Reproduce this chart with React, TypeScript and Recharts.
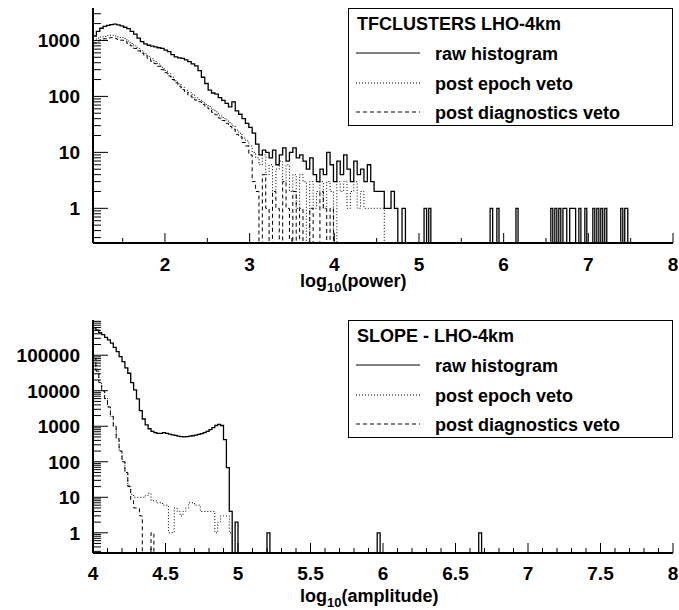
import React from 'react';
import { LineChart, Line, XAxis, YAxis } from 'recharts';

const FONT = '"Liberation Sans", Arial, Helvetica, sans-serif';
// empty bins are drawn at this value, below the axis minimum, and clipped away
const FLOOR = 0.01;

const seriesNames = ['raw histogram', 'post epoch veto', 'post diagnostics veto'];
const seriesDash = ['', '1 2', '4 3'];
const seriesWidth = [1.3, 1, 1];

// ---- TFCLUSTERS LHO-4km : counts per log10(power) bin, 0.04 wide from 1.15 ----
const tfBinStart = 1.15;
const tfBinWidth = 0.04;
const tfRaw = [
  1200, 1450, 1650, 1780, 1860, 1920, 1950, 1900, 1820, 1720,
  1620, 1450, 1300, 1100, 950, 870, 820, 790, 770, 740,
  720, 670, 630, 560, 510, 490, 480, 450, 420, 380,
  350, 290, 220, 170, 130, 115, 110, 95, 85, 75,
  65, 80, 55, 48, 40, 33, 28, 22, 14, 9,
  11, 10, 8, 11, 6, 9, 12, 7, 10, 12,
  8, 9, 7, 5, 8, 4, 3, 5, 4, 10,
  6, 3, 7, 4, 9, 5, 3, 7, 4, 5,
  3, 6, 3, 2, 2, 2, 1, 1, 2, 1,
];
const tfEpoch = [
  1050, 1100, 1150, 1180, 1220, 1240, 1200, 1160, 1120, 1080,
  980, 880, 800, 720, 650, 580, 520, 470, 420, 380,
  330, 290, 255, 220, 190, 168, 145, 128, 118, 108,
  95, 88, 80, 72, 66, 58, 53, 46, 42, 38,
  34, 30, 25, 22, 18, 16, 13, 10, 8, 6,
  9, 4, 6, 2, 5, 7, 3, 6, 2, 4,
  1, 4, 3, 0, 3, 1, 2, 3, 1, 3,
  2, 0, 3, 2, 3, 1, 2, 3, 1, 2,
  1, 1, 1, 1, 1, 1,
];
const tfDiag = [
  900, 980, 1030, 1070, 1100, 1120, 1090, 1050, 1010, 970,
  890, 800, 720, 650, 590, 530, 475, 425, 385, 345,
  300, 265, 232, 200, 175, 152, 132, 118, 106, 97,
  86, 80, 72, 64, 60, 52, 47, 41, 37, 33,
  29, 26, 21, 19, 15, 13, 9, 3, 2, 0,
  4, 1, 0, 2, 1, 0, 3, 1, 0, 2,
  0, 1, 0, 0, 1, 0, 0, 2, 1, 0,
  1, 0,
];
// isolated single-count bins of the raw histogram: [low edge, high edge, count]
const tfRawSingles = [
  [4.8, 4.84, 1], [5.06, 5.09, 1], [5.115, 5.14, 1], [5.84, 5.87, 1],
  [5.92, 5.945, 1], [6.145, 6.17, 1], [6.557, 6.58, 1], [6.604, 6.628, 1],
  [6.651, 6.675, 1], [6.7, 6.745, 1], [6.78, 6.85, 1], [6.888, 6.912, 1],
  [6.959, 6.982, 1], [7.053, 7.076, 1], [7.1, 7.124, 1], [7.147, 7.17, 1],
  [7.194, 7.218, 1], [7.383, 7.407, 1], [7.43, 7.466, 1],
];
const tfXMajor = [2, 3, 4, 5, 6, 7, 8];
const tfXMinor = [1.5, 2.5, 3.5, 4.5, 5.5, 6.5, 7.5];
const tfYDecades = [1, 10, 100, 1000];

// ---- SLOPE - LHO-4km : counts per log10(amplitude) bin, 0.02 wide from 4 ----
const slBinStart = 4;
const slBinWidth = 0.02;
const slRaw = [
  590000, 510000, 430000, 380000, 316000, 270000, 220000, 166000, 126000, 91000,
  66000, 44000, 31000, 17000, 10500, 5900, 2750, 1600, 1100, 850,
  720, 660, 630, 630, 660, 630, 600, 575, 550, 525,
  510, 500, 510, 530, 540, 560, 590, 620, 660, 720,
  800, 910, 1050, 1130, 1050, 420, 68, 4,
];
const slEpoch = [
  80000, 36000, 17000, 10000, 6000, 3500, 1900, 1000, 450, 200,
  100, 50, 22, 12, 10, 10, 10, 10, 11, 13,
  8, 8, 7, 7, 6, 6, 1, 1, 5, 4,
  3, 4, 5, 7, 7, 6, 6, 4, 4, 4,
  4, 4, 1, 2, 3, 3, 3, 1,
];
const slDiag = [
  80000, 36000, 17000, 10000, 6000, 3500, 1900, 1000, 450, 200,
  100, 50, 20, 8, 5, 5, 3, 0, 0, 0,
  1,
];
const slRawSingles = [[4.98, 5.0, 2], [5.2, 5.22, 1], [5.96, 5.98, 1], [6.66, 6.68, 1]];
const slXMajor = [4, 4.5, 5, 5.5, 6, 6.5, 7, 7.5, 8];
const slXMinor = [
  4.1, 4.2, 4.3, 4.4, 4.6, 4.7, 4.8, 4.9, 5.1, 5.2, 5.3, 5.4, 5.6, 5.7, 5.8, 5.9,
  6.1, 6.2, 6.3, 6.4, 6.6, 6.7, 6.8, 6.9, 7.1, 7.2, 7.3, 7.4, 7.6, 7.7, 7.8, 7.9,
];
const slYDecades = [1, 10, 100, 1000, 10000, 100000];

type Pt = { x: number; y: number };

function histogram(start: number, width: number, counts: number[], singles: number[][] = []): Pt[] {
  const pts: Pt[] = counts.map((c, i) => ({ x: start + i * width, y: c > 0 ? c : FLOOR }));
  pts.push({ x: start + counts.length * width, y: FLOOR });
  singles.forEach(([lo, hi, c]) => {
    pts.push({ x: lo, y: c });
    pts.push({ x: hi, y: FLOOR });
  });
  return pts;
}

function logTicks(lo: number, hi: number) {
  const out: number[] = [];
  for (let e = Math.floor(Math.log10(lo)); e <= Math.ceil(Math.log10(hi)); e++) {
    for (let m = 1; m < 10; m++) {
      const v = m * Math.pow(10, e);
      if (v >= lo && v <= hi * 1.0001) out.push(v);
    }
  }
  return out;
}

const near = (list: number[], v: number) => list.some((m) => Math.abs(m - v) <= Math.abs(m) * 1e-6 + 1e-9);

const labelStyle = { fontFamily: FONT, fontWeight: 'bold' as const, fontSize: 19, fill: '#000' };

function XTick(props: any) {
  const { x, y, payload, majors, dy } = props;
  const major = near(majors, payload.value);
  return (
    <g>
      <line x1={x} x2={x} y1={y} y2={y - (major ? 10 : 5)} stroke="#000" strokeWidth={1} />
      {major && (
        <text x={x} y={y + dy} textAnchor="middle" {...labelStyle}>
          {String(payload.value)}
        </text>
      )}
    </g>
  );
}

function YTick(props: any) {
  const { x, y, payload, majors } = props;
  const major = near(majors, payload.value);
  return (
    <g>
      <line x1={x} x2={x + (major ? 15 : 8)} y1={y} y2={y} stroke="#000" strokeWidth={1} />
      {major && (
        <text x={x - 13} y={y + 7} textAnchor="end" {...labelStyle}>
          {String(Math.round(payload.value))}
        </text>
      )}
    </g>
  );
}

type PanelProps = {
  top: number;
  height: number;
  marginTop: number;
  xDomain: [number, number];
  yDomain: [number, number];
  xTicks: number[];
  xMajor: number[];
  yDecades: number[];
  labelDy: number;
  lines: Pt[][];
};

function HistPanel({ top, height, marginTop, xDomain, yDomain, xTicks, xMajor, yDecades, labelDy, lines }: PanelProps) {
  return (
    <div style={{ position: 'absolute', left: 0, top }}>
      <LineChart width={679} height={height} margin={{ top: marginTop, right: 6, bottom: 0, left: 0 }}>
        <XAxis
          dataKey="x"
          type="number"
          domain={xDomain}
          allowDataOverflow
          ticks={xTicks}
          interval={0}
          height={57}
          tickSize={0}
          tickMargin={0}
          axisLine={{ stroke: '#000', strokeWidth: 2 }}
          tick={(p: any) => <XTick {...p} majors={xMajor} dy={labelDy} />}
        />
        <XAxis
          xAxisId="frame"
          orientation="top"
          type="number"
          domain={xDomain}
          height={0}
          tick={false}
          tickLine={false}
          axisLine={{ stroke: '#000', strokeWidth: 1.5 }}
        />
        <YAxis
          type="number"
          scale="log"
          domain={yDomain}
          allowDataOverflow
          ticks={logTicks(yDomain[0], yDomain[1])}
          interval={0}
          width={93}
          tickSize={0}
          tickMargin={0}
          axisLine={{ stroke: '#000', strokeWidth: 2 }}
          tick={(p: any) => <YTick {...p} majors={yDecades} />}
        />
        {lines.map((pts, i) => (
          <Line
            key={seriesNames[i]}
            data={pts}
            dataKey="y"
            type="stepAfter"
            stroke="#000"
            strokeWidth={seriesWidth[i]}
            strokeDasharray={seriesDash[i] || undefined}
            dot={false}
            activeDot={false}
            isAnimationActive={false}
          />
        ))}
      </LineChart>
    </div>
  );
}

function LegendBox({ left, top, title }: { left: number; top: number; title: string }) {
  const rows = [15, 45, 75, 104];
  return (
    <g transform={`translate(${left},${top})`}>
      <rect x={0.5} y={0.5} width={324} height={117} fill="#fff" stroke="#000" strokeWidth={1} />
      <text x={9} y={rows[0] + 6.5} fontFamily={FONT} fontWeight="bold" fontSize={18} fill="#000">
        {title}
      </text>
      {seriesNames.map((name, i) => (
        <g key={name}>
          <line
            x1={8}
            x2={72}
            y1={rows[i + 1]}
            y2={rows[i + 1]}
            stroke="#000"
            strokeWidth={1}
            strokeDasharray={seriesDash[i] || undefined}
          />
          <text x={87} y={rows[i + 1] + 6.5} fontFamily={FONT} fontWeight="bold" fontSize={18} fill="#000">
            {name}
          </text>
        </g>
      ))}
    </g>
  );
}

function AxisTitle({ x, y, unit }: { x: number; y: number; unit: string }) {
  return (
    <text x={x} y={y} fontFamily={FONT} fontWeight="bold" fontSize={18} fill="#000">
      <tspan>log</tspan>
      <tspan dy={5} fontSize={13}>10</tspan>
      <tspan dy={-5}>({unit})</tspan>
    </text>
  );
}

export default function App() {
  const tfLines = [
    histogram(tfBinStart, tfBinWidth, tfRaw, tfRawSingles),
    histogram(tfBinStart, tfBinWidth, tfEpoch),
    histogram(tfBinStart, tfBinWidth, tfDiag),
  ];
  const slLines = [
    histogram(slBinStart, slBinWidth, slRaw, slRawSingles),
    histogram(slBinStart, slBinWidth, slEpoch),
    histogram(slBinStart, slBinWidth, slDiag),
  ];
  return (
    <div style={{ position: 'absolute', left: 0, top: 0, width: 679, height: 610, background: '#fff', overflow: 'hidden' }}>
      <HistPanel
        top={0}
        height={300}
        marginTop={8}
        xDomain={[1.15, 8]}
        yDomain={[0.24, 3800]}
        xTicks={[...tfXMinor, ...tfXMajor].sort((a, b) => a - b)}
        xMajor={tfXMajor}
        yDecades={tfYDecades}
        labelDy={28}
        lines={tfLines}
      />
      <HistPanel
        top={300}
        height={310}
        marginTop={20}
        xDomain={[4, 8]}
        yDomain={[0.27, 980000]}
        xTicks={[...slXMinor, ...slXMajor].sort((a, b) => a - b)}
        xMajor={slXMajor}
        yDecades={slYDecades}
        labelDy={27}
        lines={slLines}
      />
      <svg width={679} height={610} style={{ position: 'absolute', left: 0, top: 0, pointerEvents: 'none' }}>
        <LegendBox left={348} top={8} title="TFCLUSTERS LHO-4km" />
        <LegendBox left={348} top={320} title="SLOPE - LHO-4km" />
        <AxisTitle x={300} y={287} unit="power" />
        <AxisTitle x={300} y={602} unit="amplitude" />
      </svg>
    </div>
  );
}
